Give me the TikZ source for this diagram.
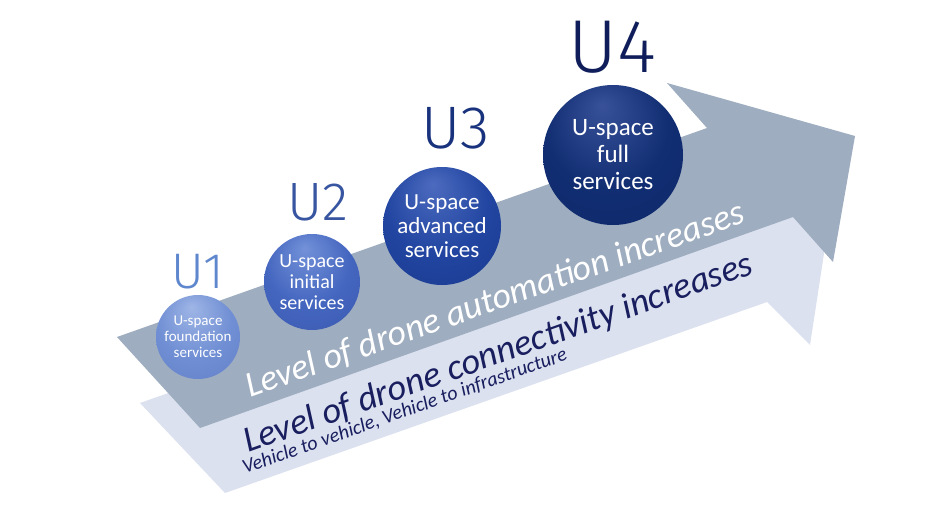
\documentclass[tikz,border=0pt]{standalone}
\usepackage{fontspec}
\setmainfont{Carlito}
\newfontfamily\labelfont{Fira Sans Light}
\definecolor{greyarrow}{RGB}{158,173,191}
\definecolor{lightarrow}{RGB}{219,225,239}
\definecolor{lab1}{RGB}{95,135,205}
\definecolor{lab2}{RGB}{55,85,160}
\definecolor{lab3}{RGB}{25,50,125}
\definecolor{lab4}{RGB}{15,30,90}
\definecolor{darktext}{RGB}{25,30,95}
\pgfdeclareradialshading{glossA}{\pgfpoint{-4bp}{18bp}}{rgb(0bp)=(0.62,0.71,0.90); rgb(22bp)=(0.44,0.56,0.83); rgb(44bp)=(0.38,0.49,0.78); rgb(50bp)=(0.32,0.43,0.73)}
\pgfdeclareradialshading{glossB}{\pgfpoint{-4bp}{18bp}}{rgb(0bp)=(0.45,0.57,0.85); rgb(22bp)=(0.27,0.40,0.75); rgb(44bp)=(0.22,0.34,0.68); rgb(50bp)=(0.17,0.28,0.60)}
\pgfdeclareradialshading{glossC}{\pgfpoint{-4bp}{18bp}}{rgb(0bp)=(0.30,0.42,0.75); rgb(22bp)=(0.13,0.27,0.63); rgb(44bp)=(0.10,0.22,0.55); rgb(50bp)=(0.07,0.17,0.47)}
\pgfdeclareradialshading{glossD}{\pgfpoint{-4bp}{18bp}}{rgb(0bp)=(0.22,0.32,0.60); rgb(22bp)=(0.07,0.18,0.45); rgb(44bp)=(0.05,0.15,0.40); rgb(50bp)=(0.03,0.11,0.33)}
\tikzset{
  ball/.style={circle, inner sep=0pt, shade, text=white, align=center},
  ulabel/.style={anchor=base, inner sep=0pt, font=\labelfont\fontsize{#1}{#1}\selectfont},
  arrowtext/.style={anchor=base west, inner sep=0pt, rotate=19.5}
}
\begin{document}
\begin{tikzpicture}[x=1pt,y=-1pt]
\useasboundingbox (0,0) rectangle (939,509);
\fill[white] (0,0) rectangle (939,509);
% arrows
\fill[lightarrow] (140,403) -- (682,212) -- (639,169) -- (829,221) -- (810,345) -- (767,302) -- (225,493) -- cycle;
\fill[greyarrow] (117,337) -- (707,128) -- (667,83) -- (855,136) -- (833,262) -- (793,217) -- (200,428) -- cycle;
% arrow texts
\node[arrowtext, text=white, font=\fontsize{36}{36}\selectfont\itshape] (t1) at (250,398) {Level of drone automation increases};
\node[arrowtext, text=darktext, font=\fontsize{36.5}{36.5}\selectfont\itshape] (t2) at (248,453) {Level of drone connectivity increases};
\node[arrowtext, text=darktext, font=\fontsize{20}{20}\selectfont\itshape] (t3) at (245,474) {Vehicle to vehicle, Vehicle to infrastructure};
% balls
\node[ball, shading=glossA, minimum size=84pt, font=\fontsize{15}{16}\selectfont] (c1) at (198,337) {U-space\\foundation\\services};
\node[ball, shading=glossB, minimum size=96pt, font=\fontsize{20}{21}\selectfont] (c2) at (312,282) {U-space\\initial\\services};
\node[ball, shading=glossC, minimum size=118pt, font=\fontsize{23}{24}\selectfont] (c3) at (442,226) {U-space\\advanced\\services};
\node[ball, shading=glossD, minimum size=140pt, font=\fontsize{25}{27}\selectfont] (c4) at (613,155) {U-space\\full\\services};
% labels
\node[ulabel=50, text=lab1] (l1) at (198,288) {U1};
\node[ulabel=54, text=lab2] (l2) at (318,220) {U2};
\node[ulabel=60, text=lab3] (l3) at (456,148) {U3};
\node[ulabel=75, text=lab4] (l4) at (612,72) {U4};
\end{tikzpicture}
\end{document}
